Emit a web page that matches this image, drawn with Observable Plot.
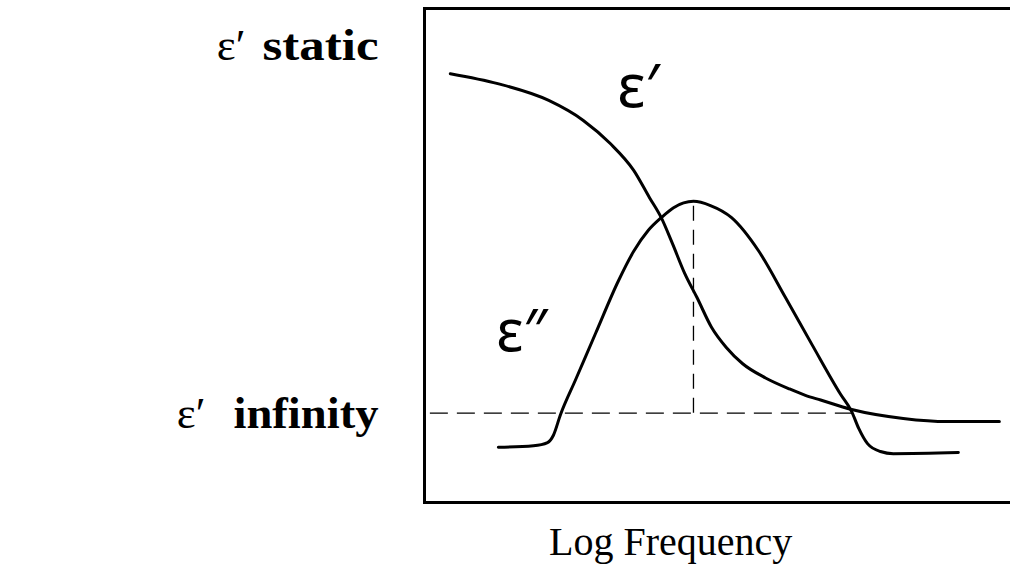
<!DOCTYPE html>
<html>
<head>
<meta charset="utf-8">
<script src="https://cdn.jsdelivr.net/npm/d3@7"></script>
<script src="https://cdn.jsdelivr.net/npm/@observablehq/plot@0.6"></script>
<style>
  body { margin: 0; background: #fff; }
  #chart { width: 1010px; height: 580px; }
</style>
</head>
<body>
<div id="chart"></div>
<script>
// Debye-type dispersion sketch: real permittivity ε′ falls from its static
// value to ε∞ while the loss ε″ peaks at the relaxation frequency.

// ε′ (real part) against log frequency
const realLogF = [0.44, 1.25, 2.12, 2.71, 3.17, 3.57, 3.84, 4.04, 4.23, 4.44, 4.65, 4.90, 5.15, 5.43, 5.82, 6.23, 6.50, 6.76, 7.29, 8.17, 8.92, 9.81];
const realEps  = [74.6, 72.7, 69.5, 65.7, 61.3, 56.2, 51.0, 47.2, 42.3, 36.6, 32.0, 26.3, 22.5, 19.4, 16.7, 14.6, 13.4, 12.5, 10.7, 9.0, 8.4, 8.4];

// ε″ (loss part) against log frequency
const lossLogF = [1.26, 1.86, 2.10, 2.20, 2.32, 2.58, 2.92, 3.31, 3.57, 3.82, 4.04, 4.25, 4.59, 4.88, 5.24, 5.70, 6.16, 6.62, 7.10, 7.29, 7.41, 7.56, 7.78, 8.00, 9.11];
const lossEps  = [3.5, 3.8, 4.4, 5.8, 9.7, 16.4, 25.2, 35.2, 40.8, 44.8, 47.2, 49.1, 50.3, 49.5, 47.2, 40.9, 32.0, 22.9, 13.6, 10.3, 7.1, 4.2, 2.7, 2.3, 2.5];

// Reference levels on the permittivity axis
const levelValues = [80, 10];
const levelNames  = ["static", "infinity"];
const epsInfinity = 10;
// extent of the ε∞ guide line along log frequency
const guideExtent = [0.1, 7.29];

// curve labels
const curveLabels = [
  {name: "ε′", logF: 3.65, eps: 68.2, size: 60},
  {name: "ε″", logF: 1.66, eps: 21.9, size: 58}
];
const axisTitle = "Log Frequency";
const axisTitleAt = 4.2;

const real = realLogF.map((f, i) => ({logF: f, eps: realEps[i]}));
const loss = lossLogF.map((f, i) => ({logF: f, eps: lossEps[i]}));
const peak = d3.greatest(loss, d => d.eps);

const chart = Plot.plot({
  width: 1010,
  height: 580,
  marginLeft: 424,
  marginRight: 0,
  marginTop: 8,
  marginBottom: 78,
  x: {domain: [0, 10], axis: null},
  y: {domain: [-7, 87], axis: null},
  marks: [
    Plot.frame({stroke: "#000", strokeWidth: 3, insetRight: -6}),
    Plot.axisY(levelValues, {
      tickSize: 0,
      tickPadding: 46,
      label: null,
      fontSize: 45,
      fontFamily: "Liberation Serif",
      tickFormat: v => "ε′|" + levelNames[levelValues.indexOf(v)]
    }),
    Plot.ruleY([epsInfinity], {
      x1: guideExtent[0], x2: guideExtent[1],
      stroke: "#000", strokeWidth: 1.3, strokeDasharray: "18,9"
    }),
    Plot.ruleX([peak], {
      x: "logF", y1: epsInfinity, y2: "eps",
      stroke: "#000", strokeWidth: 1.3, strokeDasharray: "15,9"
    }),
    Plot.line(real, {x: "logF", y: "eps", curve: "monotone-x", stroke: "#000", strokeWidth: 3}),
    Plot.line(loss, {x: "logF", y: "eps", curve: "monotone-x", stroke: "#000", strokeWidth: 3}),
    Plot.text(curveLabels, {
      x: "logF", y: "eps", text: "name",
      fontSize: d => d.size,
      fontFamily: "Noto Sans",
      lineAnchor: "bottom",
      fill: "#000"
    }),
    Plot.text([axisTitle], {
      x: axisTitleAt, frameAnchor: "bottom", dy: 52,
      fontSize: 40, fontFamily: "Liberation Serif", fill: "#000"
    })
  ]
});

// level labels: the symbol in regular weight, the word in bold and
// set slightly wide
const wordStyle = {
  static:   {gap: 17, length: 116},
  infinity: {gap: 28, length: 145}
};
chart.querySelectorAll('g[aria-label="y-axis tick label"] text').forEach(t => {
  const [symText, wordText] = t.textContent.split("|");
  t.textContent = "";
  const sym = document.createElementNS("http://www.w3.org/2000/svg", "tspan");
  sym.textContent = symText;
  const word = document.createElementNS("http://www.w3.org/2000/svg", "tspan");
  word.textContent = wordText;
  word.setAttribute("font-weight", "bold");
  word.setAttribute("dx", wordStyle[wordText].gap);
  word.setAttribute("textLength", wordStyle[wordText].length);
  word.setAttribute("lengthAdjust", "spacingAndGlyphs");
  t.append(sym, word);
});

document.getElementById("chart").append(chart);
</script>
</body>
</html>
